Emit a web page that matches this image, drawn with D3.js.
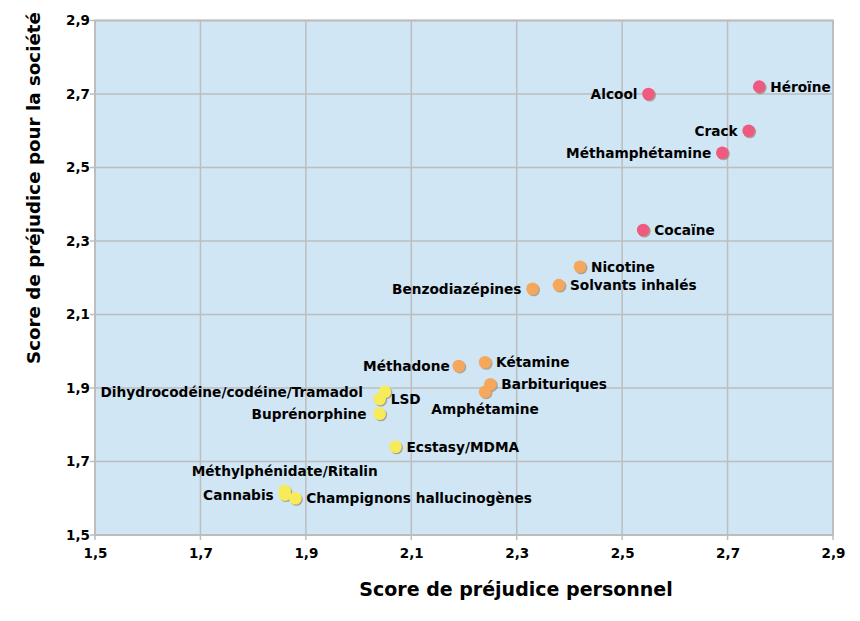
<!DOCTYPE html>
<html><head><meta charset="utf-8">
<script src="https://cdn.jsdelivr.net/npm/d3@7"></script>
<style>
html,body{margin:0;padding:0;background:#fff;}
text{font-family:"DejaVu Sans",sans-serif;font-weight:bold;fill:#000;}
</style></head>
<body><svg id="c" width="860" height="621"></svg>
<script>
const drugs = ["Héroïne","Alcool","Crack","Méthamphétamine","Cocaïne","Nicotine","Solvants inhalés","Benzodiazépines","Méthadone","Kétamine","Barbituriques","Amphétamine","Dihydrocodéine/codéine/Tramadol","LSD","Buprénorphine","Ecstasy/MDMA","Méthylphénidate/Ritalin","Cannabis","Champignons hallucinogènes"];
const personal = [2.76,2.55,2.74,2.69,2.54,2.42,2.38,2.33,2.19,2.24,2.25,2.24,2.05,2.04,2.04,2.07,1.86,1.86,1.88];
const societal = [2.72,2.70,2.60,2.54,2.33,2.23,2.18,2.17,1.96,1.97,1.91,1.89,1.89,1.87,1.83,1.74,1.62,1.61,1.60];
const group = [0,0,0,0,0,1,1,1,1,1,1,1,2,2,2,2,2,2,2];
const labelSide = ["right","left","left","left","right","right","right","left","left","right","right","below","left","right","left","right","above","left","right"];
const labelGap = [11,11,11,11,11,11,11,11,9,11,11,0,22,11,13,11,0,11,11];
const ticks = [1.5,1.7,1.9,2.1,2.3,2.5,2.7,2.9];
const groupColors = ["#ee5a80","#f5a75b","#f8eb5a"];

const svg = d3.select("#c");
const L=95, R=833, T=20.5, B=535;
const x = d3.scaleLinear().domain([1.5,2.9]).range([L,R]);
const y = d3.scaleLinear().domain([1.5,2.9]).range([B,T]);
const fmt = d => d.toFixed(1).replace(".",",");

svg.append("rect").attr("x",L).attr("y",T).attr("width",R-L).attr("height",B-T).attr("fill","#d0e6f4");

const grid = svg.append("g").attr("stroke","#bdbdbd").attr("stroke-width",1.5);
ticks.forEach(t=>{
  grid.append("line").attr("x1",x(t)).attr("x2",x(t)).attr("y1",T).attr("y2",B+5);
  grid.append("line").attr("x1",L-5).attr("x2",R).attr("y1",y(t)).attr("y2",y(t));
});
svg.append("rect").attr("x",L).attr("y",T).attr("width",R-L).attr("height",B-T).attr("fill","none").attr("stroke","#bdbdbd").attr("stroke-width",2);

const xa = svg.append("g").attr("transform",`translate(0,${B})`)
  .call(d3.axisBottom(x).tickValues(ticks).tickFormat(fmt).tickSize(0).tickPadding(13));
xa.select(".domain").remove();
xa.selectAll("text").attr("font-size",13.5).attr("font-family","DejaVu Sans").attr("font-weight","bold").attr("fill","#000");
const ya = svg.append("g").attr("transform",`translate(${L},0)`)
  .call(d3.axisLeft(y).tickValues(ticks).tickFormat(fmt).tickSize(0).tickPadding(5));
ya.select(".domain").remove();
ya.selectAll("text").attr("font-size",13.5).attr("font-family","DejaVu Sans").attr("font-weight","bold").attr("fill","#000");

svg.append("text").attr("x",516).attr("y",596).attr("text-anchor","middle").attr("font-size",19).text("Score de préjudice personnel");
svg.append("text").attr("transform","translate(40,188) rotate(-90)").attr("text-anchor","middle").attr("font-size",18.3).text("Score de préjudice pour la société");

const idx = d3.range(drugs.length);
const pts = svg.append("g");
pts.selectAll("circle.sh").data(idx).join("circle")
  .attr("cx",i=>x(personal[i])+1.2).attr("cy",i=>y(societal[i])+1.2).attr("r",6.3)
  .attr("fill","#8a7a60").attr("opacity",0.6);
pts.selectAll("circle.pt").data(idx).join("circle")
  .attr("cx",i=>x(personal[i])).attr("cy",i=>y(societal[i])).attr("r",6.3)
  .attr("fill",i=>groupColors[group[i]]);

svg.append("g").selectAll("text").data(idx).join("text")
  .attr("font-size",13.7)
  .attr("x",i=>{const s=labelSide[i], cx=x(personal[i]); return s==="right"?cx+labelGap[i]:s==="left"?cx-labelGap[i]:cx;})
  .attr("y",i=>{const s=labelSide[i], cy=y(societal[i]); return s==="below"?cy+22:s==="above"?cy-15:cy+5;})
  .attr("text-anchor",i=>{const s=labelSide[i]; return s==="right"?"start":s==="left"?"end":"middle";})
  .text(i=>drugs[i]);
</script></body></html>
